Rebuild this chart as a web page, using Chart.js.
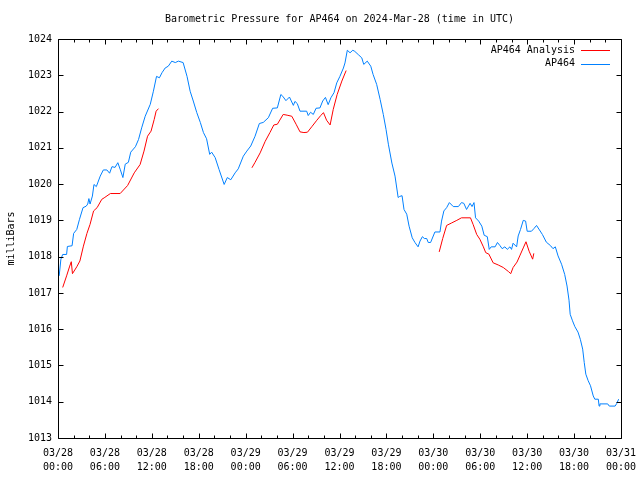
<!DOCTYPE html>
<html>
<head>
<meta charset="utf-8">
<script src="https://cdn.jsdelivr.net/npm/chart.js@4.4.1/dist/chart.umd.min.js"></script>
<style>
  html, body { margin: 0; padding: 0; background: #fff; }
  #wrap { width: 640px; height: 480px; }
</style>
</head>
<body>
<div id="wrap"><canvas id="c" width="640" height="480"></canvas></div>
<script>
// ---- Data (hours since 2024-03-28 00:00 UTC) ----
const xTickHours = [0, 6, 12, 18, 24, 30, 36, 42, 48, 54, 60, 66, 72];
const xTickLabels = [
  ['03/28', '00:00'], ['03/28', '06:00'], ['03/28', '12:00'], ['03/28', '18:00'],
  ['03/29', '00:00'], ['03/29', '06:00'], ['03/29', '12:00'], ['03/29', '18:00'],
  ['03/30', '00:00'], ['03/30', '06:00'], ['03/30', '12:00'], ['03/30', '18:00'],
  ['03/31', '00:00']
];
const yTickValues = [1013, 1014, 1015, 1016, 1017, 1018, 1019, 1020, 1021, 1022, 1023, 1024];

const ap464Hours = [
  0.15, 0.37, 0.6, 1.1, 1.2, 1.8, 2.0, 2.4, 2.75, 3.2, 3.6, 3.8, 3.95, 4.1, 4.4, 4.6, 4.9, 5.4, 5.8, 6.25,
  6.6, 6.9, 7.3, 7.65, 7.95, 8.3, 8.6, 9.0, 9.3, 9.9, 10.3, 10.7, 11.15, 11.8, 12.2, 12.6, 12.97, 13.3, 13.7, 14.1,
  14.55, 15.0, 15.4, 16.0, 16.5, 16.9, 17.3, 17.75, 18.2, 18.6, 19.0, 19.4, 19.65, 20.1, 20.6, 21.25, 21.65, 22.1, 22.65, 23.05,
  23.7, 24.15, 24.65, 25.2, 25.75, 26.25, 26.9, 27.45, 28.05, 28.5, 28.75, 29.15, 29.6, 30.1, 30.3, 30.6, 30.95, 31.8, 32.0, 32.3,
  32.65, 33.0, 33.5, 33.85, 34.2, 34.55, 34.9, 35.3, 35.65, 36.05, 36.5, 36.7, 37.0, 37.35, 37.7, 37.95, 38.4, 38.85, 39.1, 39.55,
  40.0, 40.3, 40.75, 41.2, 41.6, 41.95, 42.25, 42.7, 43.1, 43.5, 43.7, 44.0, 44.25, 44.6, 44.9, 45.3, 45.65, 46.05, 46.3, 46.6,
  46.85, 47.15, 47.35, 47.65, 48.2, 48.85, 49.05, 49.35, 49.7, 50.05, 50.55, 51.2, 51.6, 51.9, 52.25, 52.7, 52.95, 53.2, 53.4, 53.8,
  54.2, 54.5, 54.9, 55.15, 55.4, 55.9, 56.2, 56.5, 56.8, 57.15, 57.45, 57.8, 58.0, 58.2, 58.65, 58.85, 59.15, 59.5, 59.8, 60.0,
  60.55, 60.85, 61.2, 61.5, 61.95, 62.45, 63.0, 63.3, 63.6, 63.95, 64.4, 64.8, 65.1, 65.35, 65.5, 65.8, 66.1, 66.5, 66.8, 67.1,
  67.3, 67.5, 67.8, 68.1, 68.45, 68.65, 69.1, 69.2, 69.3, 70.3, 70.5, 71.25, 71.45, 71.7
];
const ap464Pressure = [
  1017.47, 1017.93, 1018.06, 1018.06, 1018.28, 1018.30, 1018.64, 1018.75, 1019.03, 1019.35, 1019.39, 1019.45, 1019.60, 1019.45, 1019.67, 1019.99, 1019.93, 1020.22, 1020.39, 1020.39,
  1020.30, 1020.48, 1020.46, 1020.59, 1020.41, 1020.18, 1020.55, 1020.60, 1020.88, 1021.03, 1021.23, 1021.55, 1021.87, 1022.20, 1022.56, 1022.97, 1022.93, 1023.07, 1023.20, 1023.25,
  1023.39, 1023.35, 1023.39, 1023.35, 1022.97, 1022.56, 1022.29, 1021.97, 1021.70, 1021.42, 1021.25, 1020.82, 1020.88, 1020.73, 1020.40, 1019.99, 1020.18, 1020.12, 1020.31, 1020.42,
  1020.77, 1020.91, 1021.05, 1021.32, 1021.67, 1021.70, 1021.83, 1022.09, 1022.10, 1022.47, 1022.42, 1022.30, 1022.40, 1022.17, 1022.28, 1022.22, 1022.01, 1022.01, 1021.89, 1021.98,
  1021.92, 1022.09, 1022.10, 1022.29, 1022.39, 1022.19, 1022.38, 1022.52, 1022.79, 1022.97, 1023.20, 1023.34, 1023.69, 1023.62, 1023.69, 1023.66, 1023.57, 1023.48, 1023.30, 1023.39,
  1023.25, 1023.02, 1022.75, 1022.33, 1021.92, 1021.51, 1021.10, 1020.58, 1020.22, 1019.63, 1019.66, 1019.68, 1019.30, 1019.17, 1018.84, 1018.52, 1018.39, 1018.27, 1018.43, 1018.55,
  1018.50, 1018.50, 1018.39, 1018.39, 1018.68, 1018.68, 1018.98, 1019.26, 1019.35, 1019.49, 1019.38, 1019.38, 1019.49, 1019.47, 1019.30, 1019.47, 1019.38, 1019.49, 1019.07, 1018.98,
  1018.84, 1018.59, 1018.55, 1018.20, 1018.27, 1018.27, 1018.39, 1018.31, 1018.22, 1018.27, 1018.20, 1018.27, 1018.20, 1018.37, 1018.27, 1018.57, 1018.75, 1019.00, 1018.98, 1018.70,
  1018.70, 1018.77, 1018.86, 1018.76, 1018.61, 1018.40, 1018.30, 1018.22, 1018.27, 1018.02, 1017.79, 1017.51, 1017.19, 1016.80, 1016.41, 1016.23, 1016.07, 1015.92, 1015.72, 1015.45,
  1015.08, 1014.76, 1014.58, 1014.44, 1014.16, 1014.07, 1014.07, 1013.88, 1013.94, 1013.94, 1013.88, 1013.88, 1013.95, 1014.07
];

const analysisHours = [
  0.6, 1.1, 1.5, 1.7, 1.85, 2.4, 2.8, 3.25, 3.7, 4.1, 4.55, 5.0, 5.6, 5.9, 6.7, 7.95, 8.9, 9.75, 10.5, 11.0,
  11.45, 11.9, 12.3, 12.55, 12.85,
  18,
  24.8, 25.2, 25.85, 26.5, 27.1, 27.6, 28.05, 28.8, 29.3, 29.9, 30.45, 30.95, 31.45, 31.9, 32.45, 33.1, 33.6, 33.95, 34.35, 34.8,
  35.2, 35.7, 36.3, 36.85,
  42,
  48.75, 49.2, 49.7, 50.35, 51.0, 51.6, 52.75, 53.1, 53.55, 53.95, 54.4, 54.7, 55.1, 55.65, 56.3, 56.95, 57.6, 57.9, 58.2, 58.7,
  59.05, 59.5, 59.85, 60.25, 60.7, 60.85
];
const analysisPressure = [
  1017.15, 1017.47, 1017.74, 1017.86, 1017.53, 1017.72, 1017.88, 1018.29, 1018.64, 1018.89, 1019.26, 1019.35, 1019.58, 1019.62, 1019.74, 1019.74, 1019.96, 1020.31, 1020.54, 1020.91,
  1021.32, 1021.46, 1021.78, 1022.01, 1022.08,
  null,
  1020.45, 1020.60, 1020.86, 1021.18, 1021.42, 1021.63, 1021.65, 1021.92, 1021.90, 1021.87, 1021.65, 1021.44, 1021.42, 1021.43, 1021.58, 1021.76, 1021.89, 1021.97, 1021.76, 1021.63,
  1022.06, 1022.47, 1022.84, 1023.13,
  null,
  1018.13, 1018.50, 1018.86, 1018.93, 1019.00, 1019.07, 1019.07, 1018.88, 1018.61, 1018.48, 1018.27, 1018.11, 1018.07, 1017.83, 1017.77, 1017.70, 1017.59, 1017.53, 1017.70, 1017.85,
  1018.02, 1018.24, 1018.41, 1018.15, 1017.93, 1018.09
];

// ---- Styles ----
const FONT = 'DejaVu Sans Mono';
const RED = '#ff0000';
const BLUE = '#0080ff';

const toPoints = (xs, ys) => xs.map((h, i) => ({ x: h, y: ys[i] }));

const frameTicks = {
  id: 'frameTicks',
  afterDatasetsDraw(chart) {
    const { ctx, chartArea: a, scales: { x, y } } = chart;
    ctx.save();
    ctx.strokeStyle = '#000';
    ctx.lineWidth = 1;
    const L = Math.round(a.left) + 0.5, R = Math.round(a.right) + 0.5;
    const T = Math.round(a.top) + 0.5, B = Math.round(a.bottom) + 0.5;
    ctx.beginPath();
    ctx.rect(L, T, R - L, B - T);
    for (let h = 0; h <= 72; h += 2) {
      const px = Math.round(x.getPixelForValue(h)) + 0.5;
      const len = (h % 6 === 0) ? 5 : 3;
      ctx.moveTo(px, B); ctx.lineTo(px, B - len);
      ctx.moveTo(px, T); ctx.lineTo(px, T + len);
    }
    yTickValues.forEach(v => {
      const py = Math.round(y.getPixelForValue(v)) + 0.5;
      ctx.moveTo(L, py); ctx.lineTo(L + 5, py);
      ctx.moveTo(R, py); ctx.lineTo(R - 5, py);
    });
    ctx.stroke();
    ctx.restore();
  }
};

const keyLegend = {
  id: 'keyLegend',
  afterDraw(chart) {
    const { ctx } = chart;
    ctx.save();
    ctx.font = '10px "' + FONT + '"';
    ctx.textAlign = 'right';
    ctx.textBaseline = 'middle';
    chart.data.datasets.forEach((ds, i) => {
      const yy = 50 + i * 13.5;
      ctx.fillStyle = '#000';
      ctx.fillText(ds.label, 575, yy);
      ctx.strokeStyle = ds.borderColor;
      ctx.lineWidth = 1;
      ctx.beginPath();
      ctx.moveTo(581, Math.round(yy) + 0.5);
      ctx.lineTo(610, Math.round(yy) + 0.5);
      ctx.stroke();
    });
    ctx.restore();
  }
};

new Chart(document.getElementById('c'), {
  type: 'line',
  data: {
    datasets: [
      { label: 'AP464 Analysis', data: toPoints(analysisHours, analysisPressure), borderColor: RED,
        borderWidth: 1, pointRadius: 0, tension: 0, spanGaps: false, fill: false, order: 2 },
      { label: 'AP464', data: toPoints(ap464Hours, ap464Pressure), borderColor: BLUE,
        borderWidth: 1, pointRadius: 0, tension: 0, spanGaps: false, fill: false, order: 1 }
    ]
  },
  options: {
    responsive: false,
    animation: false,
    events: [],
    layout: { padding: { left: 0, right: 19, top: 0, bottom: 0 } },
    plugins: {
      legend: { display: false },
      tooltip: { enabled: false },
      title: {
        display: true,
        fullSize: false,
        text: 'Barometric Pressure for AP464 on 2024-Mar-28 (time in UTC)',
        color: '#000',
        font: { family: FONT, size: 10, weight: 'normal', lineHeight: 1.2 },
        padding: { top: 13, bottom: 14 }
      }
    },
    scales: {
      x: {
        type: 'linear',
        min: 0, max: 72,
        afterBuildTicks: s => { s.ticks = xTickHours.map(v => ({ value: v })); },
        afterFit: s => { s.height = 42; s.paddingLeft = 0; s.paddingRight = 0; },
        grid: { display: false, drawTicks: false },
        border: { display: false },
        ticks: {
          autoSkip: false, maxRotation: 0, minRotation: 0,
          padding: 9,
          color: '#000',
          font: { family: FONT, size: 10, lineHeight: 1.34 },
          callback: (v) => xTickLabels[xTickHours.indexOf(v)]
        }
      },
      y: {
        type: 'linear',
        min: 1013, max: 1024,
        afterBuildTicks: s => { s.ticks = yTickValues.map(v => ({ value: v })); },
        afterFit: s => { s.width = 58; s.paddingTop = 0; s.paddingBottom = 0; },
        grid: { display: false, drawTicks: false },
        border: { display: false },
        ticks: {
          padding: 6,
          color: '#000',
          font: { family: FONT, size: 10 },
          callback: v => String(v)
        },
        title: {
          display: true,
          text: 'milliBars',
          color: '#000',
          font: { family: FONT, size: 10, lineHeight: 1.2 },
          padding: { top: 5, bottom: 0 }
        }
      }
    }
  },
  plugins: [frameTicks, keyLegend]
});
</script>
</body>
</html>
